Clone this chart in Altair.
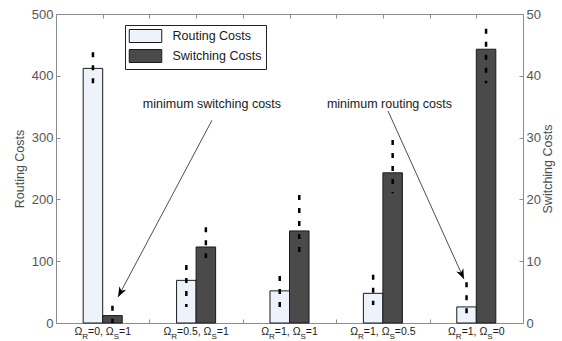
import math
import altair as alt
import pandas as pd

# ---------------- data ----------------
categories = ["ΩR=0, ΩS=1", "ΩR=0.5, ΩS=1", "ΩR=1, ΩS=1", "ΩR=1, ΩS=0.5", "ΩR=1, ΩS=0"]
omega_r = ["0", "0.5", "1", "1", "1"]
omega_s = ["1", "1", "1", "0.5", "0"]
series = ["Routing Costs", "Switching Costs"]

routing = [412, 69, 52, 48, 26]
routing_lo = [387, 26, 26, 29, 10]
routing_hi = [438, 94, 76, 78, 66]

switching = [1.2, 12.3, 14.9, 24.3, 44.3]
switching_lo = [0.0, 10.5, 11.5, 21.0, 38.8]
switching_hi = [2.8, 15.5, 20.7, 29.6, 47.6]

routing_ticks = [0, 100, 200, 300, 400, 500]
switching_ticks = [0, 10, 20, 30, 40, 50]

annot_text = ["minimum switching costs", "minimum routing costs"]
annot_text_x = [1.67, 3.57]
annot_text_y = [354, 354]
arrow_start_x = [1.67, 3.555]
arrow_start_y = [328, 343]
arrow_tip_x = [0.664, 4.368]
arrow_tip_y = [42, 71]

# ---------------- layout / style ----------------
W, H = 467, 309
FONT = "Liberation Sans"
BOX = "#8c8c8c"
N = len(categories)
PAD_IN = 0.582  # share of each category slot left empty around the bar pair

rdf = pd.DataFrame({"cat": categories, "series": series[0], "value": routing,
                    "lo": routing_lo, "hi": routing_hi})
sdf = pd.DataFrame({"cat": categories, "series": series[1], "value": switching,
                    "lo": switching_lo, "hi": switching_hi})

xband = alt.X("cat:N", scale=alt.Scale(domain=categories, paddingInner=PAD_IN,
                                       paddingOuter=PAD_IN / 2), axis=None)
xoff = alt.XOffset("series:N", scale=alt.Scale(domain=series, paddingInner=0, paddingOuter=0))

legend = alt.Legend(
    title=None, orient="none", legendX=69, legendY=11, direction="vertical",
    strokeColor="#222222", fillColor="white", padding=4, rowPadding=2,
    symbolType="M-2.5,-1H2.5V1H-2.5Z", symbolSize=169,
    symbolStrokeColor="#1a1a1a", symbolStrokeWidth=1, symbolOpacity=1,
    symbolOffset=9.5, labelOffset=20,
    labelFont=FONT, labelFontSize=12.5, labelColor="#1a1a1a",
)
color = alt.Color("series:N", scale=alt.Scale(domain=series, range=["#eef3fb", "#4a4a4a"]),
                  legend=legend)

common_axis = dict(domain=False, grid=False, ticks=True, tickSize=4, offset=-4, tickColor=BOX,
                   labelFont=FONT, labelFontSize=13, labelColor="#555555", labelPadding=3,
                   titleFont=FONT, titleFontSize=12.5, titleFontWeight="normal",
                   titleColor="#4d4d4d")

left_axis = alt.Axis(orient="left", values=routing_ticks, title="Routing Costs",
                     titlePadding=5, **common_axis)
right_axis = alt.Axis(orient="right", values=switching_ticks, title="Switching Costs",
                      titleAngle=270, titlePadding=14, **common_axis)

yr = alt.Scale(domain=[0, 500], nice=False)
ys = alt.Scale(domain=[0, 50], nice=False)

routing_bars = alt.Chart(rdf).mark_bar(stroke="#1a1a1a", strokeWidth=1).encode(
    x=xband, xOffset=xoff,
    y=alt.Y("value:Q", scale=yr, axis=left_axis), color=color)
routing_err = alt.Chart(rdf).mark_rule(color="black", strokeWidth=2.5, strokeDash=[5, 8]).encode(
    x=xband, xOffset=xoff,
    y=alt.Y("hi:Q", scale=yr, axis=None), y2="lo:Q")

switching_bars = alt.Chart(sdf).mark_bar(stroke="#1a1a1a", strokeWidth=1).encode(
    x=xband, xOffset=xoff,
    y=alt.Y("value:Q", scale=ys, axis=right_axis), color=color)
switching_err = alt.Chart(sdf).mark_rule(color="black", strokeWidth=2.5, strokeDash=[5, 8]).encode(
    x=xband, xOffset=xoff,
    y=alt.Y("hi:Q", scale=ys, axis=None), y2="lo:Q")

# ---------- annotation coordinate system: x in category units, y in routing units ----------
ax = alt.Scale(domain=[0, N], nice=False, zero=False)
ay = alt.Scale(domain=[0, 500], nice=False)
tick_common = dict(domain=False, grid=False, labels=False, ticks=True, tickSize=4, offset=-4,
                   tickColor=BOX, title=None)
top_axis = alt.Axis(orient="top", values=[k / 2 for k in range(1, 2 * N)], **tick_common)
bottom_axis = alt.Axis(orient="bottom", values=list(range(1, N)), **tick_common)

arrow_rows = []
for i in range(len(annot_text)):
    arrow_rows.append({"id": i, "ord": 0, "x": arrow_start_x[i], "y": arrow_start_y[i]})
    arrow_rows.append({"id": i, "ord": 1, "x": arrow_tip_x[i], "y": arrow_tip_y[i]})
adf = pd.DataFrame(arrow_rows)

arrow_lines = alt.Chart(adf).mark_line(color="#3a3a3a", strokeWidth=0.9).encode(
    x=alt.X("x:Q", scale=ax, axis=top_axis),
    y=alt.Y("y:Q", scale=ay, axis=None),
    detail="id:N", order="ord:O")

HEAD = "M0,0L0.65,1.7L0,1.2L-0.65,1.7Z"
heads = []
for i in range(len(annot_text)):
    dxp = (arrow_tip_x[i] - arrow_start_x[i]) * W / N
    dyp = -(arrow_tip_y[i] - arrow_start_y[i]) * H / 500
    ang = math.degrees(math.atan2(dxp, -dyp)) % 360
    hdf = pd.DataFrame({"x": [arrow_tip_x[i]], "y": [arrow_tip_y[i]]})
    heads.append(alt.Chart(hdf).mark_point(shape=HEAD, filled=True, color="black", opacity=1,
                                           size=144, angle=ang, strokeWidth=0).encode(
        x=alt.X("x:Q", scale=ax, axis=None), y=alt.Y("y:Q", scale=ay, axis=None)))

tdf = pd.DataFrame({"text": annot_text, "x": annot_text_x, "y": annot_text_y})
annot_labels = alt.Chart(tdf).mark_text(font=FONT, fontSize=12.5, color="#1a1a1a",
                                        align="center", baseline="middle").encode(
    x=alt.X("x:Q", scale=ax, axis=None), y=alt.Y("y:Q", scale=ay, axis=None), text="text:N")

# ---------- category labels with subscripts ----------
WID = {"Ω": 0.75, "=": 0.584, ",": 0.278, " ": 0.278, ".": 0.278, "R": 0.722, "S": 0.667}
for d in "0123456789":
    WID[d] = 0.556
MAIN_FS, SUB_FS = 10.5, 8


def tw(s, fs):
    return sum(WID.get(c, 0.556) for c in s) * fs


piece_rows = []
for i in range(N):
    pieces = [("Ω", "main"), ("R", "sub"), ("=" + omega_r[i] + ", Ω", "main"),
              ("S", "sub"), ("=" + omega_s[i], "main")]
    widths = [tw(t, MAIN_FS if k == "main" else SUB_FS) for t, k in pieces]
    left = -sum(widths) / 2
    for (t, k), w in zip(pieces, widths):
        piece_rows.append({"text": t, "kind": k, "x": i + 0.5 + left / (W / N)})
        left += w
pdf = pd.DataFrame(piece_rows)

label_main = alt.Chart(pdf).transform_filter(alt.datum.kind == "main").mark_text(
    font=FONT, fontSize=MAIN_FS, color="#1a1a1a", align="left", baseline="alphabetic", dy=12).encode(
    x=alt.X("x:Q", scale=ax, axis=bottom_axis), y=alt.value(H), text="text:N")
label_sub = alt.Chart(pdf).transform_filter(alt.datum.kind == "sub").mark_text(
    font=FONT, fontSize=SUB_FS, color="#1a1a1a", align="left", baseline="alphabetic", dy=15.5).encode(
    x=alt.X("x:Q", scale=ax, axis=None), y=alt.value(H), text="text:N")

chart = alt.layer(
    routing_bars, switching_bars, routing_err, switching_err,
    arrow_lines, *heads, annot_labels, label_main, label_sub,
).resolve_scale(
    x="independent", y="independent", xOffset="independent"
).properties(
    width=W, height=H,
    padding={"left": 56, "top": 14, "right": 562 - 56 - W, "bottom": 341 - 14 - H},
    autosize=alt.AutoSizeParams(type="none"),
    background="white",
).configure_view(
    stroke=BOX, strokeWidth=1
).configure_text(font=FONT)

chart.save("out.html", embed_options={"renderer": "svg", "actions": False})
